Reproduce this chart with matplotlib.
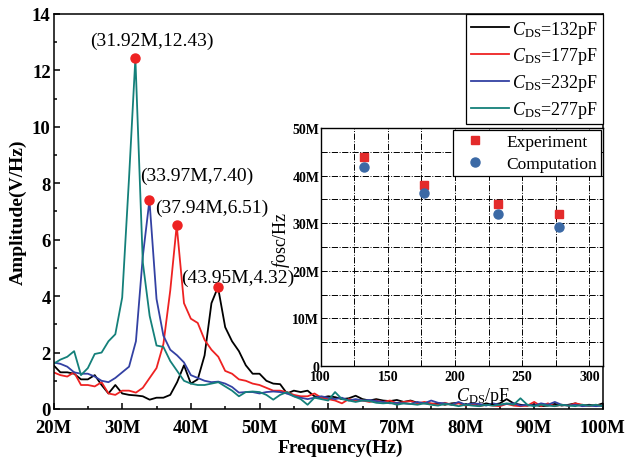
"""
Amplitude spectra for four C_DS values, with f_osc vs C_DS inset
"""
import numpy as np
import matplotlib.pyplot as plt
from matplotlib.ticker import MultipleLocator, FuncFormatter

plt.rcParams.update({
    'font.family': 'serif',
    'font.serif': ['Liberation Serif', 'DejaVu Serif'],
    'mathtext.fontset': 'custom',
    'mathtext.rm': 'Liberation Serif',
    'mathtext.it': 'Liberation Serif:italic',
    'mathtext.bf': 'Liberation Serif:bold',
})

# frequency grid in MHz (one sample per MHz)
freq = np.arange(20, 101)

amp_132 = [1.55, 1.3, 1.3, 1.25, 1.05, 1.05, 1.2, 0.85, 0.55, 0.85,
           0.55, 0.5, 0.48, 0.45, 0.33, 0.4, 0.4, 0.5, 0.95, 1.55,
           0.9, 1.05, 1.9, 3.75, 4.32, 2.9, 2.4, 2.05, 1.55, 1.25,
           1.25, 1.0, 0.9, 0.88, 0.55, 0.65, 0.6, 0.65, 0.45, 0.4,
           0.45, 0.42, 0.35, 0.38, 0.47, 0.35, 0.3, 0.35, 0.3, 0.28,
           0.32, 0.25, 0.3, 0.22, 0.2, 0.18, 0.2, 0.15, 0.2, 0.22,
           0.15, 0.18, 0.12, 0.2, 0.15, 0.2, 0.35, 0.2, 0.15, 0.12,
           0.15, 0.1, 0.12, 0.18, 0.12, 0.15, 0.2, 0.12, 0.15, 0.12, 0.2]
amp_177 = [1.3, 1.2, 1.15, 1.3, 0.85, 0.85, 0.8, 0.95, 0.55, 0.5,
           0.65, 0.65, 0.58, 0.75, 1.1, 1.45, 2.3, 4.2, 6.51, 3.75,
           3.2, 3.05, 2.45, 2.1, 1.85, 1.35, 1.25, 1.05, 1.0, 0.9,
           0.85, 0.75, 0.65, 0.65, 0.6, 0.5, 0.45, 0.45, 0.55, 0.4,
           0.35, 0.3, 0.2, 0.35, 0.3, 0.3, 0.25, 0.3, 0.25, 0.3,
           0.2, 0.25, 0.28, 0.2, 0.25, 0.2, 0.15, 0.22, 0.15, 0.2,
           0.12, 0.18, 0.1, 0.15, 0.12, 0.1, 0.18, 0.12, 0.1, 0.12,
           0.25, 0.1, 0.2, 0.1, 0.15, 0.12, 0.2, 0.15, 0.1, 0.15, 0.1]
amp_232 = [1.65, 1.6, 1.5, 1.3, 1.25, 1.25, 1.15, 1.0, 0.95, 1.1,
           1.3, 1.5, 2.4, 5.4, 7.40, 3.9, 2.6, 2.1, 1.9, 1.65,
           1.2, 1.1, 1.0, 0.95, 0.97, 0.9, 0.78, 0.58, 0.6, 0.6,
           0.55, 0.6, 0.62, 0.6, 0.55, 0.45, 0.4, 0.35, 0.4, 0.45,
           0.4, 0.35, 0.4, 0.3, 0.35, 0.3, 0.32, 0.28, 0.25, 0.2,
           0.22, 0.2, 0.18, 0.25, 0.2, 0.3, 0.22, 0.2, 0.15, 0.25,
           0.15, 0.2, 0.18, 0.12, 0.2, 0.15, 0.18, 0.2, 0.12, 0.15,
           0.12, 0.2, 0.15, 0.25, 0.15, 0.12, 0.15, 0.1, 0.12, 0.1, 0.12]
amp_277 = [1.6, 1.75, 1.85, 2.05, 1.2, 1.45, 1.95, 2.0, 2.4, 2.65,
           3.95, 8.2, 12.43, 5.2, 3.3, 2.25, 2.2, 1.7, 1.35, 1.0,
           0.9, 0.85, 0.85, 0.9, 0.95, 0.8, 0.65, 0.45, 0.6, 0.62,
           0.6, 0.5, 0.33, 0.5, 0.6, 0.45, 0.35, 0.15, 0.4, 0.35,
           0.3, 0.6, 0.35, 0.3, 0.25, 0.3, 0.28, 0.22, 0.2, 0.22,
           0.15, 0.2, 0.18, 0.15, 0.2, 0.15, 0.12, 0.18, 0.15, 0.1,
           0.15, 0.12, 0.1, 0.15, 0.12, 0.15, 0.2, 0.15, 0.38, 0.15,
           0.1, 0.15, 0.12, 0.1, 0.15, 0.12, 0.1, 0.15, 0.12, 0.15, 0.1]

labels = [r'$C_{\mathrm{DS}}$=132pF', r'$C_{\mathrm{DS}}$=177pF',
          r'$C_{\mathrm{DS}}$=232pF', r'$C_{\mathrm{DS}}$=277pF']
colors = ['#000000', '#ee2222', '#3341a3', '#14807a']

# peaks (MHz, V/Hz)
peak_f = [43.95, 37.94, 33.97, 31.92]
peak_a = [4.32, 6.51, 7.40, 12.43]
peak_text = ['(43.95M,4.32)', '(37.94M,6.51)', '(33.97M,7.40)', '(31.92M,12.43)']
text_pos = [(46.85, 4.67), (43.1, 7.16), (40.9, 8.27), (34.3, 13.06)]

# inset data
cds = [132, 177, 232, 277]
f_exp = [44.0, 38.0, 34.0, 32.0]
f_comp = [41.9, 36.3, 31.9, 29.3]

fig = plt.figure(figsize=(6.26, 4.64), dpi=100)
ax = fig.add_axes([0.0855, 0.1164, 0.8775, 0.8513])

for amp, pf, c, lab in zip([amp_132, amp_177, amp_232, amp_277], peak_f, colors, labels):
    x = freq.astype(float)
    # the peak sample sits at its measured frequency
    i = int(np.argmin(np.abs(x - pf)))
    x[i] = pf
    ax.plot(x, amp, color=c, lw=1.3, label=lab)

ax.plot(peak_f, peak_a, 'o', color='#ee2222', ms=6.5, zorder=5)
for t, (tx, ty) in zip(peak_text, text_pos):
    ax.text(tx, ty, t, fontsize=14, ha='center', va='center')

ax.set_xlim(20, 100)
ax.set_ylim(0, 14)
ax.xaxis.set_major_locator(MultipleLocator(10))
ax.xaxis.set_minor_locator(MultipleLocator(5))
ax.yaxis.set_major_locator(MultipleLocator(2))
ax.yaxis.set_minor_locator(MultipleLocator(1))
ax.xaxis.set_major_formatter(FuncFormatter(lambda v, p: f'{int(v)}M'))
ax.tick_params(which='both', direction='in', top=False, right=False, width=1.1)
ax.tick_params(which='major', length=4)
ax.tick_params(which='minor', length=2.5)
ax.tick_params(axis='x', pad=7)
ax.tick_params(axis='y', pad=2)
for lbl in ax.get_xticklabels() + ax.get_yticklabels():
    lbl.set_fontweight('bold')
    lbl.set_fontsize(13.5)
for s in ax.spines.values():
    s.set_linewidth(1.1)

ax.set_xlabel('Frequency(Hz)', fontsize=14, fontweight='bold')
ax.xaxis.set_label_coords(0.523, -0.076)
ax.set_ylabel('Amplitude(V/Hz)', fontsize=14, fontweight='bold', labelpad=4)

leg = ax.legend(loc='upper right', fontsize=13, borderaxespad=0, fancybox=False,
                edgecolor='black', framealpha=1, handlelength=2.1,
                handletextpad=0.2, labelspacing=0.32, borderpad=0.25)
leg.get_frame().set_linewidth(0.9)

# inset: oscillation frequency vs C_DS
axi = fig.add_axes([0.5123, 0.209, 0.4507, 0.513])
axi.plot(cds, f_exp, 's', color='#e32b2b', ms=5.5, label='Experiment')
axi.plot(cds, f_comp, 'o', color='#3b69a5', ms=6.5, label='Computation')
axi.set_xlim(100, 310)
axi.set_ylim(0, 50)
axi.xaxis.set_major_locator(MultipleLocator(50))
axi.xaxis.set_minor_locator(MultipleLocator(25))
axi.yaxis.set_major_locator(MultipleLocator(10))
axi.yaxis.set_minor_locator(MultipleLocator(5))
axi.yaxis.set_major_formatter(FuncFormatter(lambda v, p: '0' if v == 0 else f'{int(v)}M'))
axi.grid(which='both', color='black', ls='-.', lw=0.7)
axi.tick_params(which='both', length=0)
axi.tick_params(axis='x', pad=3)
axi.tick_params(axis='y', pad=1)
for lbl in axi.get_xticklabels() + axi.get_yticklabels():
    lbl.set_fontweight('bold')
    lbl.set_fontsize(10)
for s in axi.spines.values():
    s.set_linewidth(1.0)
axi.text(0.574, -0.125, r'$C_{\mathrm{DS}}$/pF', transform=axi.transAxes,
         fontsize=13, ha='center', va='center')
axi.text(-0.14, 0.534, r'$f$osc/Hz', transform=axi.transAxes,
         fontsize=13, ha='center', va='center', rotation=90)
legi = axi.legend(loc='upper right', fontsize=12.5, borderaxespad=0.1, fancybox=False,
                  edgecolor='black', framealpha=1, handletextpad=0.8,
                  labelspacing=0.3, borderpad=0.25)
legi.get_frame().set_linewidth(0.9)

fig.savefig('out.png', dpi=100)
